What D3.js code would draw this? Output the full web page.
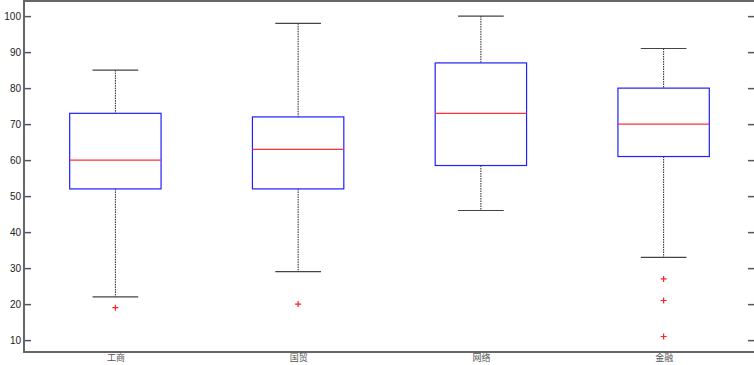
<!DOCTYPE html>
<html>
<head>
<meta charset="utf-8">
<script src="https://cdn.jsdelivr.net/npm/d3@7"></script>
<style>
body { margin: 0; background: #fff; }
svg { display: block; }
</style>
</head>
<body>
<main></main>
<script>
const categories = ['工商', '国贸', '网络', '金融'];
const lowWhisker = [22, 29, 46, 33];
const q1 = [52, 52, 58.5, 61];
const median = [60, 63, 73, 70];
const q3 = [73, 72, 87, 80];
const highWhisker = [85, 98, 100, 91];
const outliers = [[19], [20], [], [27, 21, 11]];
const yTicks = [10, 20, 30, 40, 50, 60, 70, 80, 90, 100];

const w = 754;
const h = 365;
const svg = d3.select('main').append('svg').attr('width', w).attr('height', h);

const xScale = d3.scaleLinear().domain([0.5, 4.5]).range([24, 755]);
const yScale = d3.scaleLinear().domain([6.7, 104.2]).range([352, 1]);
const step = xScale(2) - xScale(1);

// axes
const yAxis = d3.axisLeft(yScale).tickValues(yTicks).tickSizeInner(-7).tickSizeOuter(0).tickPadding(3);
const gy = svg.append('g').attr('transform', 'translate(24,0)').call(yAxis);
gy.select('.domain').remove();
gy.selectAll('line').attr('stroke', '#555').attr('stroke-width', 1.5);
gy.selectAll('text').attr('fill', '#222').style('font-family', 'Liberation Sans, Arial, sans-serif').style('font-size', '10px');

const gyr = svg.append('g').attr('transform', 'translate(755,0)').call(d3.axisRight(yScale).tickValues(yTicks).tickSizeInner(-7).tickSizeOuter(0).tickFormat(''));
gyr.select('.domain').remove();
gyr.selectAll('line').attr('stroke', '#555').attr('stroke-width', 1.5);

const xAxis = d3.axisBottom(xScale).tickValues([1, 2, 3, 4]).tickFormat(d => categories[d - 1]).tickSize(0).tickPadding(3);
const gx = svg.append('g').attr('transform', 'translate(0,352)').call(xAxis);
gx.select('.domain').remove();
gx.selectAll('text').attr('fill', '#555').style('font-family', 'Noto Sans CJK SC, sans-serif').style('font-size', '9px');

// frame
svg.append('rect')
    .attr('x', 24).attr('y', 1)
    .attr('width', 755 - 24).attr('height', 352 - 1)
    .attr('fill', 'none').attr('stroke', '#666').attr('stroke-width', 2);

// boxes
const boxes = svg.selectAll('g.box').data(categories).enter().append('g').attr('class', 'box');
const bw = step * 0.5;
const cw = step * 0.25;

boxes.append('line')
    .attr('x1', (d, i) => xScale(i + 1)).attr('x2', (d, i) => xScale(i + 1))
    .attr('y1', (d, i) => yScale(highWhisker[i])).attr('y2', (d, i) => yScale(q3[i]))
    .attr('stroke', '#222').attr('stroke-dasharray', '1.5,1');
boxes.append('line')
    .attr('x1', (d, i) => xScale(i + 1)).attr('x2', (d, i) => xScale(i + 1))
    .attr('y1', (d, i) => yScale(q1[i])).attr('y2', (d, i) => yScale(lowWhisker[i]))
    .attr('stroke', '#222').attr('stroke-dasharray', '1.5,1');
boxes.append('line')
    .attr('x1', (d, i) => xScale(i + 1) - cw / 2).attr('x2', (d, i) => xScale(i + 1) + cw / 2)
    .attr('y1', (d, i) => yScale(highWhisker[i])).attr('y2', (d, i) => yScale(highWhisker[i]))
    .attr('stroke', '#444').attr('stroke-width', 1.2);
boxes.append('line')
    .attr('x1', (d, i) => xScale(i + 1) - cw / 2).attr('x2', (d, i) => xScale(i + 1) + cw / 2)
    .attr('y1', (d, i) => yScale(lowWhisker[i])).attr('y2', (d, i) => yScale(lowWhisker[i]))
    .attr('stroke', '#444').attr('stroke-width', 1.2);
boxes.append('rect')
    .attr('x', (d, i) => xScale(i + 1) - bw / 2)
    .attr('y', (d, i) => yScale(q3[i]))
    .attr('width', bw)
    .attr('height', (d, i) => yScale(q1[i]) - yScale(q3[i]))
    .attr('fill', 'none').attr('stroke', '#2020ff').attr('stroke-width', 1.2);
boxes.append('line')
    .attr('x1', (d, i) => xScale(i + 1) - bw / 2).attr('x2', (d, i) => xScale(i + 1) + bw / 2)
    .attr('y1', (d, i) => yScale(median[i])).attr('y2', (d, i) => yScale(median[i]))
    .attr('stroke', '#ff3030').attr('stroke-width', 1.2);

// outliers
const pts = [];
outliers.forEach((arr, i) => arr.forEach(v => pts.push({ i: i, v: v })));
svg.selectAll('path.out').data(pts).enter().append('path')
    .attr('class', 'out')
    .attr('d', d => {
        const x = xScale(d.i + 1), y = yScale(d.v);
        return `M${x - 3},${y}H${x + 3}M${x},${y - 3}V${y + 3}`;
    })
    .attr('stroke', '#ff2020').attr('stroke-width', 1.2);
</script>
</body>
</html>
